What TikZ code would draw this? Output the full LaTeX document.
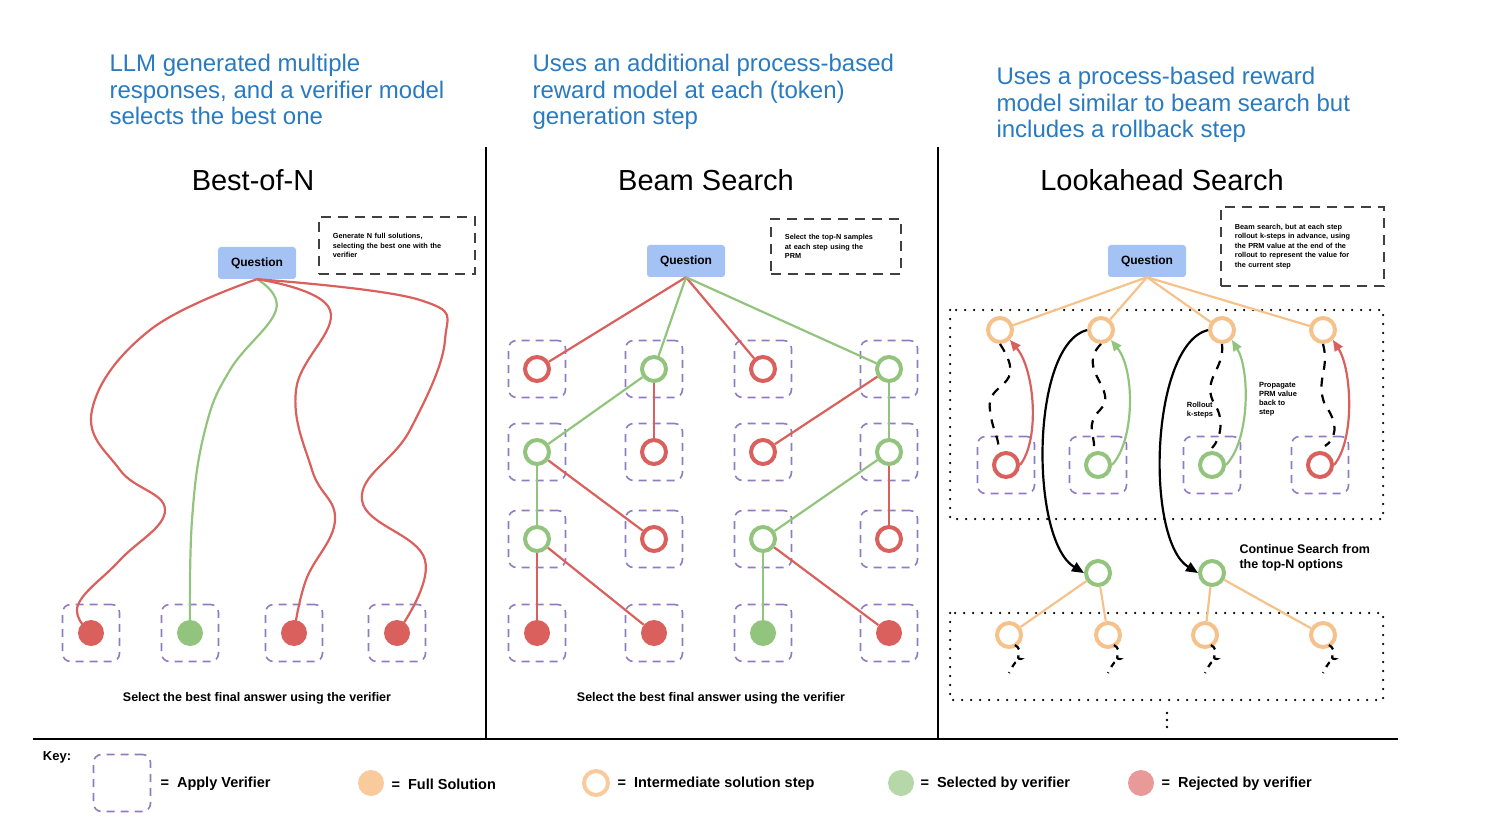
\documentclass[tikz,border=0pt]{standalone}
\usepackage{fontspec}
\setmainfont{Liberation Sans}
\usetikzlibrary{arrows.meta}
\definecolor{ttl}{HTML}{2A7AC0}
\definecolor{rd}{HTML}{D9605C}
\definecolor{gr}{HTML}{93C47D}
\definecolor{org}{HTML}{F6C28B}
\definecolor{pur}{HTML}{8E7CC3}
\definecolor{qb}{HTML}{A4C2F4}
\definecolor{gk}{HTML}{B6D7A8}
\definecolor{rk}{HTML}{EA9999}
\definecolor{ok}{HTML}{F9CB9C}
\begin{document}
\begin{tikzpicture}[x=1pt,y=-1pt,
 q/.style={fill=qb,rounded corners=3pt,minimum width=78pt,minimum height=32pt,font=\bfseries\fontsize{12}{12}\selectfont},
 vb/.style={draw=pur,line width=1.6pt,dash pattern=on 8pt off 6pt,rounded corners=8pt,minimum size=57pt},
 oc/.style={circle,draw=#1,line width=4pt,minimum size=24pt,inner sep=0pt,fill=white},
 fc/.style={circle,fill=#1,minimum size=26pt,inner sep=0pt},
 note/.style={draw=black!75,line width=1.8pt,dash pattern=on 10pt off 7pt,align=left,font=\bfseries\fontsize{7.3}{9.5}\selectfont,inner xsep=14pt,inner ysep=9pt,anchor=north west,text width=#1},
 ttlt/.style={text=ttl,font=\fontsize{24}{26.5}\selectfont,align=left,anchor=north west},
 head/.style={font=\fontsize{29}{29}\selectfont},
 e/.style={line width=2.2pt,draw=#1},
 wig/.style={line width=2.2pt,dash pattern=on 9pt off 8pt},
 lbl/.style={font=\bfseries\fontsize{12.5}{15}\selectfont,align=left},
 key/.style={font=\bfseries\fontsize{14.5}{14.5}\selectfont,anchor=west}]
\useasboundingbox (0,0) rectangle (1496,834);
% titles
\node[ttlt] (t1) at (106,51) {LLM generated multiple\\responses, and a verifier model\\selects the best one};
\node[ttlt] (t2) at (529,51) {Uses an additional process-based\\reward model at each (token)\\generation step};
\node[ttlt] (t3) at (993,64) {Uses a process-based reward\\model similar to beam search but\\includes a rollback step};
\node[head] (h1) at (253,180) {Best-of-N};
\node[head] (h2) at (706,180) {Beam Search};
\node[head] (h3) at (1162,180) {Lookahead Search};
% dividers
\draw[line width=2.5pt] (486,147) -- (486,739);
\draw[line width=2.5pt] (938,147) -- (938,739);
\draw[line width=2.5pt] (33,739) -- (1398,739);
% notes
\node[note=128pt,minimum height=57pt] (n1) at (318,216) {Generate N full solutions,\\selecting the best one with the\\verifier};
\node[note=102pt,minimum height=55pt] (n2) at (770,218) {Select the top-N samples\\at each step using the\\PRM};
\node[note=135pt,minimum height=79pt] (n3) at (1220,206) {Beam search, but at each step\\rollout k-steps in advance, using\\the PRM value at the end of the\\rollout to represent the value for\\the current step};
%% Best-of-N
\node[q] (q1) at (257,263) {Question};
\foreach \i/\x/\c in {1/91/rd,2/190/gr,3/294/rd,4/397/rd}{
 \node[vb] (b1\i) at (\x,633) {};
 \node[fc=\c] (l\i) at (\x,633) {};}
\draw[e=rd] plot[smooth,tension=0.7] coordinates {(q1.south) (150,330) (92,410) (120,470) (165,510) (120,560) (78,605) (l1)};
\draw[e=gr] plot[smooth,tension=0.7] coordinates {(q1.south) (276,310) (230,370) (205,430) (192,520) (l2)};
\draw[e=rd] plot[smooth,tension=0.7] coordinates {(q1.south) (330,310) (296,390) (312,470) (335,520) (306,580) (l3)};
\draw[e=rd] plot[smooth,tension=0.7] coordinates {(q1.south) (420,300) (445,340) (410,430) (362,500) (425,560) (l4)};
\node[font=\bfseries\fontsize{12.5}{12.5}\selectfont] (s1) at (257,698) {Select the best final answer using the verifier};
%% Beam search
\node[q] (q2) at (686,261) {Question};
\foreach \r/\y in {1/369,2/452,3/539,4/633}
 \foreach \c/\x in {1/537,2/654,3/763,4/889}
  \node[vb] (v\r\c) at (\x,\y) {};
\foreach \n/\c in {11/rd,12/gr,13/rd,14/gr,21/gr,22/rd,23/rd,24/gr,31/gr,32/rd,33/gr,34/rd}
 \node[oc=\c] (m\n) at (v\n) {};
\foreach \n/\c in {41/rd,42/rd,43/gr,44/rd}
 \node[fc=\c] (m\n) at (v\n) {};
\draw[e=rd] (q2.south) -- (m11); \draw[e=gr] (q2.south) -- (m12);
\draw[e=rd] (q2.south) -- (m13); \draw[e=gr] (q2.south) -- (m14);
\draw[e=gr] (m12) -- (m21); \draw[e=rd] (m12) -- (m22);
\draw[e=rd] (m14) -- (m23); \draw[e=gr] (m14) -- (m24);
\draw[e=gr] (m21) -- (m31); \draw[e=rd] (m21) -- (m32);
\draw[e=gr] (m24) -- (m33); \draw[e=rd] (m24) -- (m34);
\draw[e=rd] (m31) -- (m41); \draw[e=rd] (m31) -- (m42);
\draw[e=gr] (m33) -- (m43); \draw[e=rd] (m33) -- (m44);
\node[font=\bfseries\fontsize{12.5}{12.5}\selectfont] (s2) at (711,698) {Select the best final answer using the verifier};
%% Lookahead
\draw[line width=2.5pt,dash pattern=on 0pt off 9pt,line cap=round] (950,310) rectangle (1383,519);
\draw[line width=2.5pt,dash pattern=on 0pt off 9pt,line cap=round] (950,613) rectangle (1383,700);
\node[q] (q3) at (1147,261) {Question};
\foreach \i/\x in {1/1000,2/1101,3/1222,4/1323}
 \node[oc=org] (o\i) at (\x,330) {};
\foreach \i/\x/\c in {1/1006/rd,2/1098/gr,3/1212/gr,4/1320/rd}{
 \node[vb] (w\i) at (\x,465) {};
 \node[oc=\c] (p\i) at (\x,465) {};}
\foreach \i in {1,...,4} \draw[e=org] (q3.south) -- (o\i);
% wiggly rollouts
\draw[wig] (o1.south) .. controls (1030,390) and (985,380) .. (990,410) .. controls (992,430) and (1000,440) .. (998,448);
\draw[wig] (o2.south) .. controls (1075,370) and (1120,390) .. (1100,410) .. controls (1085,425) and (1095,435) .. (1094,448);
\draw[wig] (o3.south) .. controls (1225,370) and (1200,380) .. (1215,405) .. controls (1225,420) and (1220,440) .. (1212,448);
\draw[wig] (o4.south) .. controls (1330,370) and (1315,380) .. (1325,405) .. controls (1340,425) and (1335,440) .. (1325,446);
% propagate arrows
\draw[e=rd,-{Triangle[length=11pt,width=9pt]}] (p1.east) .. controls (1040,440) and (1035,370) .. (o1.south east);
\draw[e=gr,-{Triangle[length=11pt,width=9pt]}] (p2.east) .. controls (1135,440) and (1135,370) .. (o2.south east);
\draw[e=gr,-{Triangle[length=11pt,width=9pt]}] (p3.east) .. controls (1250,440) and (1250,370) .. (o3.south east);
\draw[e=rd,-{Triangle[length=11pt,width=9pt]}] (p4.east) .. controls (1355,440) and (1352,370) .. (o4.south east);
\node[font=\bfseries\fontsize{7.5}{9}\selectfont,align=left] (rk) at (1200,410) {Rollout\\k-steps};
\node[font=\bfseries\fontsize{7.5}{9}\selectfont,align=left] (pp) at (1278,399) {Propagate\\PRM value\\back to\\step};
% continue
\node[oc=gr] (c1) at (1098,573) {};
\node[oc=gr] (c2) at (1212,573) {};
\draw[line width=2.2pt,-{Triangle[length=12pt,width=10pt]}] (o2.west) .. controls (1030,345) and (1030,540) .. (c1.west);
\draw[line width=2.2pt,-{Triangle[length=12pt,width=10pt]}] (o3.west) .. controls (1150,345) and (1145,540) .. (c2.west);
\node[lbl,anchor=west] (cs) at (1236,558) {Continue Search from\\the top-N options};
\foreach \i/\x in {1/1009,2/1108,3/1205,4/1323}
 \node[oc=org] (u\i) at (\x,635) {};
\draw[e=org] (c1) -- (u1); \draw[e=org] (c1) -- (u2);
\draw[e=org] (c2) -- (u3); \draw[e=org] (c2) -- (u4);
\foreach \i in {1,...,4}
 \draw[wig,dash pattern=on 6pt off 6pt] ([xshift=6pt,yshift=4pt]u\i.south) .. controls +(10,6) and +(-8,0) .. ++(6,14) .. controls +(-10,4) and +(4,-4) .. ++(-12,14);
\foreach \y in {713,720,727} \fill (1167,\y) circle (1.4pt);
%% Key
\node[font=\bfseries\fontsize{13}{13}\selectfont] (k0) at (57,757) {Key:};
\node[vb] (kb) at (122,783) {};
\node[key] (k1) at (157,784) {=\ \ Apply Verifier};
\node[fc=ok] (kc2) at (371,783) {};
\node[key] (k2) at (388,784) {=\ \ Full Solution};
\node[oc=ok] (kc3) at (596,783) {};
\node[key] (k3) at (614,784) {=\ \ Intermediate solution step};
\node[fc=gk] (kc4) at (901,783) {};
\node[key] (k4) at (917,784) {=\ \ Selected by verifier};
\node[fc=rk] (kc5) at (1141,783) {};
\node[key] (k5) at (1158,784) {=\ \ Rejected by verifier};
\end{tikzpicture}
\end{document}
